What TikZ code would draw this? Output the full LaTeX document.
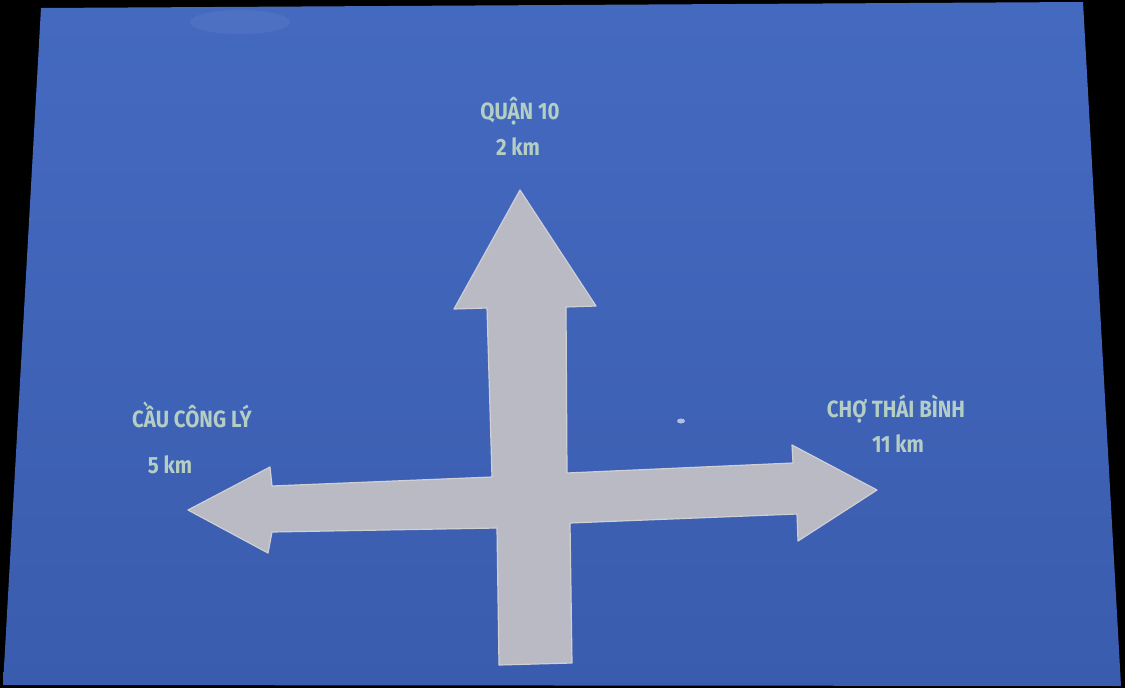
\documentclass[tikz,border=0pt]{standalone}
\usepackage{fontspec}
\setmainfont[FakeStretch=0.87]{Fira Sans}
\usetikzlibrary{calc}
\definecolor{signtop}{RGB}{68,106,192}
\definecolor{signbot}{RGB}{58,92,174}
\definecolor{arrowgray}{RGB}{186,186,196}
\definecolor{signtext}{RGB}{180,206,196}
\tikzset{
  signlabel/.style={text=signtext, font=\fontsize{23.5}{26}\selectfont\bfseries, anchor=base, inner sep=0pt},
}
\begin{document}
\begin{tikzpicture}[x=1pt,y=-1pt]
\useasboundingbox (0,0) rectangle (1125,688);
\fill[black] (0,0) rectangle (1125,688);
% sign plate
\begin{scope}
\clip (41,8) -- (1083,2) -- (1121,686) -- (3,685) -- cycle;
\shade[top color=signtop, bottom color=signbot] (0,0) rectangle (1125,688);
\fill[white, opacity=0.05] (240,22) ellipse (50 and 12);
\fill[white, opacity=0.6] (681,421) ellipse (4 and 2.5);
\end{scope}
% arrows
\fill[arrowgray, draw=arrowgray!70!white, line width=1.2pt, line join=round]
  (520,190) -- (596,306) -- (566,307) -- (567,473) -- (793,463) -- (792,445)
  -- (877,490) -- (798,541) -- (797,514) -- (570,523) -- (572,663)
  -- (499,665) -- (497,528) -- (272,532) -- (268,553) -- (188,510)
  -- (270,467) -- (272,486) -- (492,477) -- (487,308) -- (454,309) -- cycle;
% labels
\node[signlabel] (q10) at (520,119) {QUẬN 10};
\node[signlabel] (q10d) at (518,155) {2 km};
\node[signlabel] (ccl) at (192,427) {CẦU CÔNG LÝ};
\node[signlabel] (ccld) at (170,473) {5 km};
\node[signlabel] (ctb) at (896,417) {CHỢ THÁI BÌNH};
\node[signlabel] (ctbd) at (898,452) {11 km};
\end{tikzpicture}
\end{document}
